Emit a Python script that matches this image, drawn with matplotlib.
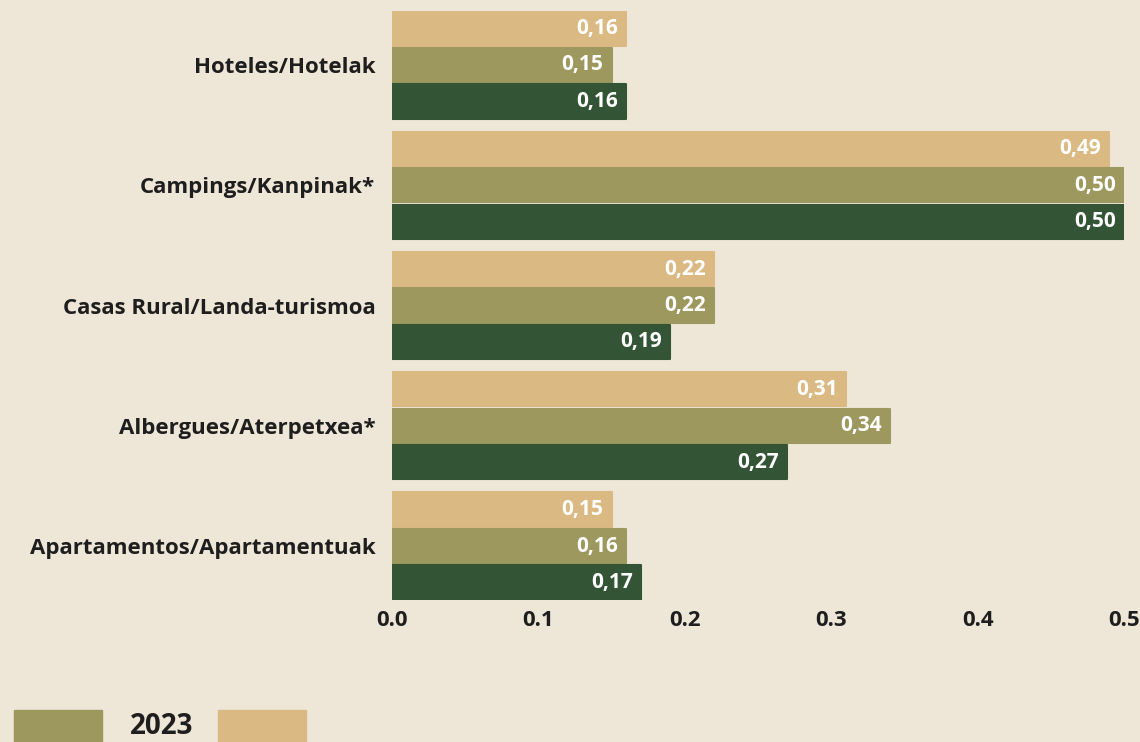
import matplotlib
matplotlib.use('Agg')
import matplotlib.pyplot as plt
from matplotlib.patches import Rectangle
import numpy as np

# data
categories = ['Hoteles/Hotelak', 'Campings/Kanpinak*', 'Casas Rural/Landa-turismoa',
              'Albergues/Aterpetxea*', 'Apartamentos/Apartamentuak']
serie_tan = [0.16, 0.49, 0.22, 0.31, 0.15]
serie_olive = [0.15, 0.50, 0.22, 0.34, 0.16]
serie_green = [0.16, 0.50, 0.19, 0.27, 0.17]
xticks = [0.0, 0.1, 0.2, 0.3, 0.4, 0.5]
legend_label = '2023'

bg = '#EEE7D8'
c_tan = '#DBB983'
c_olive = '#9D985E'
c_green = '#335435'
txt = '#1E1E1E'
fnt = 'Open Sans'

fig = plt.figure(figsize=(11.4, 7.42), dpi=100, facecolor=bg)
ax = fig.add_axes([392/1140, 1 - 600/742, (1124 - 392)/1140, 589/742])
ax.set_facecolor(bg)

pitch = 0.3035
h = 0.283
y = np.arange(len(categories))
series = [(serie_tan, c_tan, -pitch), (serie_olive, c_olive, 0), (serie_green, c_green, pitch)]
for vals, col, off in series:
    bars = ax.barh(y + off, vals, height=h, color=col, edgecolor=col,
                   linewidth=1.5, joinstyle='round')
    for b, v in zip(bars, vals):
        ax.text(v - 0.0055, b.get_y() + b.get_height()/2, ('%.2f' % v).replace('.', ','),
                ha='right', va='center', color='white', fontsize=15,
                fontweight='bold', family=fnt)

ax.set_ylim(4 + pitch + 0.1455, -pitch - 0.1455)
ax.set_xlim(0, 0.5)
ax.set_yticks(y)
ax.set_yticklabels(categories, fontsize=16, fontweight='bold', family=fnt, color=txt)
ax.set_xticks(xticks)
ax.set_xticklabels(['%.1f' % t for t in xticks], fontsize=16, fontweight='bold',
                   family=fnt, color=txt)
ax.tick_params(length=0)
ax.tick_params(axis='y', pad=12)
ax.tick_params(axis='x', pad=7)
for s in ax.spines.values():
    s.set_visible(False)

# legend at the bottom (cut off by the figure edge)
fig.add_artist(Rectangle((14/1140, -0.01), 88/1140, 32/742 + 0.01,
                         transform=fig.transFigure, color=c_olive))
fig.add_artist(Rectangle((218/1140, -0.01), 88/1140, 32/742 + 0.01,
                         transform=fig.transFigure, color=c_tan))
fig.text(162/1140, 1 - 727/742, legend_label, ha='center', va='center', fontsize=20,
         fontweight='bold', family=fnt, color=txt)

fig.savefig('out.png', dpi=100, facecolor=bg)
